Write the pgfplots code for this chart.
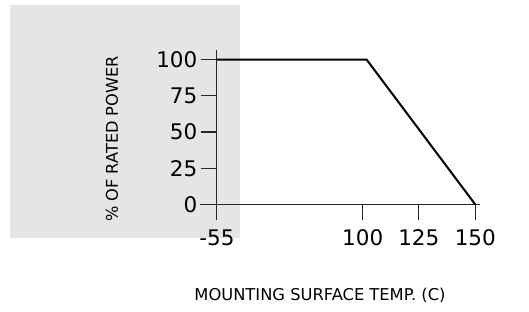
\documentclass[border=0pt]{standalone}
\usepackage{fontspec}
\setmainfont{DejaVu Sans}
\usepackage{pgfplots}
\pgfplotsset{compat=1.18}
\begin{document}
\begin{tikzpicture}[x=1pt,y=1pt]
\useasboundingbox (0,0) rectangle (529,-312);
\fill[gray!20] (10,-5) rectangle (240,-238);
\begin{axis}[
  scale only axis,
  width=280pt, height=170pt,
  at={(200pt,-220pt)}, anchor=south west,
  xmin=-7.5, xmax=116.9, ymin=-10.7, ymax=106.6,
  axis x line=middle, axis y line=middle,
  axis line style={-, line width=1.2pt, black!85},
  xtick={0,64.8,89.7,114.8}, xticklabels={-55,100,125,150},
  ytick={0,25,50,75,100}, yticklabels={0,25,50,75,100},
  tick align=outside, major tick length=16pt,
  tick style={line width=1.2pt, black!85},
  hide obscured x ticks=false, hide obscured y ticks=false,
  ticklabel style={font=\fontsize{21.5}{25}\selectfont},
  x tick label style={yshift=-6pt},
  clip=false,
]
\addplot[black, line width=2pt] coordinates {(0,100) (66.5,100) (114.8,0)};
\end{axis}
\node[rotate=90, font=\fontsize{16.2}{19}\selectfont] at (112,-139) {\% OF RATED POWER};
\node[font=\fontsize{16.3}{19}\selectfont] at (320,-295) {MOUNTING SURFACE TEMP. (C)};
\end{tikzpicture}
\end{document}
